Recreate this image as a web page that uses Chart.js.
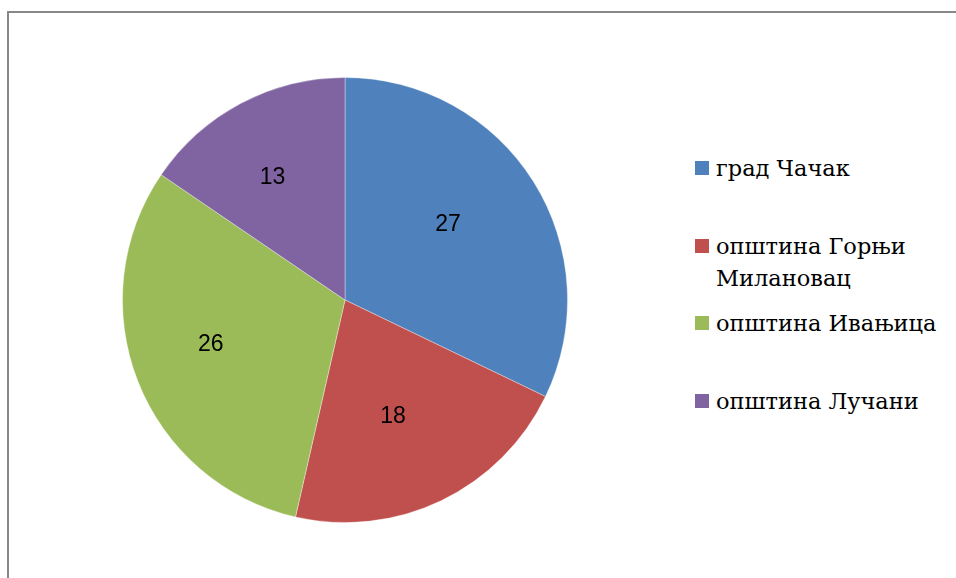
<!DOCTYPE html>
<html>
<head>
<meta charset="utf-8">
<script src="https://cdn.jsdelivr.net/npm/chart.js@4"></script>
<style>
  html, body { margin:0; padding:0; background:#fff; width:956px; height:578px; overflow:hidden; }
  .frame { position:absolute; left:7px; top:11px; width:1000px; height:700px; border-left:2px solid #888; border-top:2px solid #888; }
  .pie-wrap { position:absolute; left:122px; top:77px; width:446px; height:446px; }
  #legend { position:absolute; left:695px; top:152px; margin:0; padding:0; list-style:none;
    font-family:"DejaVu Serif", serif; font-size:22.5px; color:#000; }
  #legend li { position:relative; height:77.7px; line-height:32px; padding-left:21px; width:236px; white-space:normal; }
  #legend .box { position:absolute; left:0; top:9px; width:14px; height:14px; }
</style>
</head>
<body>
<div class="frame"></div>
<div class="pie-wrap"><canvas id="pie"></canvas></div>
<ul id="legend"></ul>
<script>
// ===== data =====
const labels = ['град Чачак', 'општина Горњи Милановац', 'општина Ивањица', 'општина Лучани'];
const values = [27, 18, 26, 13];
const colors = ['#4f81bd', '#c0504d', '#9bbb59', '#8064a2'];

// value labels inside each slice
const sliceLabels = {
  id: 'sliceLabels',
  afterDatasetsDraw(chart) {
    const ctx = chart.ctx;
    const meta = chart.getDatasetMeta(0);
    ctx.save();
    ctx.font = '23px "Liberation Sans", Arial, sans-serif';
    ctx.fillStyle = '#000';
    ctx.textAlign = 'center';
    ctx.textBaseline = 'middle';
    meta.data.forEach((arc, i) => {
      const p = arc.getProps(['x','y','startAngle','endAngle','outerRadius'], true);
      const mid = (p.startAngle + p.endAngle) / 2;
      const r = p.outerRadius * 0.6;
      ctx.fillText(values[i], p.x + Math.cos(mid) * r - 10, p.y + Math.sin(mid) * r - 4);
    });
    ctx.restore();
  }
};

new Chart(document.getElementById('pie'), {
  type: 'pie',
  data: {
    labels: labels,
    datasets: [{ data: values, backgroundColor: colors, borderWidth: 1, borderColor: 'rgba(255,255,255,0.35)' }]
  },
  options: {
    responsive: true,
    maintainAspectRatio: false,
    animation: false,
    layout: { padding: 0 },
    plugins: { legend: { display: false }, tooltip: { enabled: false } }
  },
  plugins: [sliceLabels]
});

// legend on the right
document.getElementById('legend').innerHTML = labels.map((l, i) =>
  `<li><span class="box" style="background:${colors[i]}"></span>${l}</li>`
).join('');
</script>
</body>
</html>
